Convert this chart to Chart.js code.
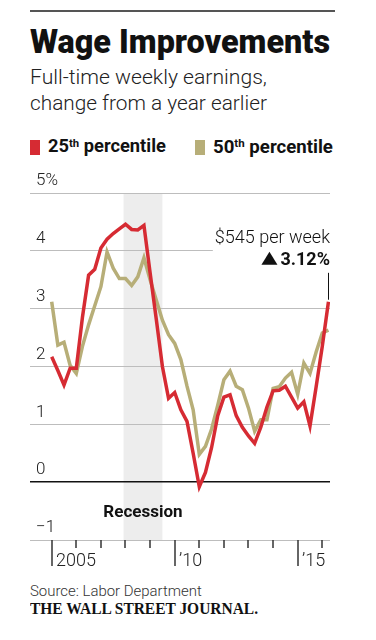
<!DOCTYPE html>
<html>
<head>
<meta charset="utf-8">
<script src="https://cdn.jsdelivr.net/npm/chart.js@4.4.1/dist/chart.umd.min.js"></script>
<style>
  html, body { margin: 0; padding: 0; background: #fff; }
  body { width: 376px; height: 640px; position: relative; overflow: hidden; font-family: Roboto, sans-serif; color: #111; }
  #chart { position: absolute; left: 0; top: 0; }
  .t { position: absolute; left: 30px; white-space: nowrap; line-height: 1; }
  .rule { position: absolute; left: 30px; top: 10px; width: 305px; height: 2px; background: #555; }
  .sw { position: absolute; top: 140px; width: 10px; height: 15px; }
  sup { font-size: 0.62em; vertical-align: 0; position: relative; top: -0.5em; }
</style>
</head>
<body>
<div class="rule"></div>
<div class="t" data-base="53" data-w="300" style="font-weight:900;font-size:32px">Wage Improvements</div>
<div class="t" data-base="84" data-w="237" style="font-weight:300;font-size:19px;color:#222">Full-time weekly earnings,</div>
<div class="t" data-base="110" data-w="237" style="font-weight:300;font-size:19px;color:#222">change from a year earlier</div>
<div class="sw" style="left:30px;background:#d62b33"></div>
<div class="t" data-base="153" data-w="118" style="left:48px;font-weight:700;font-size:18px">25<sup>th</sup> percentile</div>
<div class="sw" style="left:195px;background:#b7ae78"></div>
<div class="t" data-base="153" data-w="120" style="left:213px;font-weight:700;font-size:18px">50<sup>th</sup> percentile</div>
<div class="t" data-base="596" data-w="172" style="font-weight:300;font-size:15px;color:#333">Source: Labor Department</div>
<div class="t" data-base="614" data-w="228" data-fit="sx" style="font-family:'Liberation Serif',serif;font-weight:700;font-size:16px">THE WALL STREET JOURNAL.</div>
<canvas id="chart" width="376" height="640"></canvas>
<script>
// quarterly, change from a year earlier (%)
const quarters = [
  '2005Q1', '2005Q2', '2005Q3', '2005Q4', '2006Q1', '2006Q2', '2006Q3', '2006Q4',
  '2007Q1', '2007Q2', '2007Q3', '2007Q4', '2008Q1', '2008Q2', '2008Q3', '2008Q4',
  '2009Q1', '2009Q2', '2009Q3', '2009Q4', '2010Q1', '2010Q2', '2010Q3', '2010Q4',
  '2011Q1', '2011Q2', '2011Q3', '2011Q4', '2012Q1', '2012Q2', '2012Q3', '2012Q4',
  '2013Q1', '2013Q2', '2013Q3', '2013Q4', '2014Q1', '2014Q2', '2014Q3', '2014Q4',
  '2015Q1', '2015Q2', '2015Q3', '2015Q4', '2016Q1', '2016Q2'
];
const p25 = [
  2.17, 1.93, 1.68, 1.97, 1.97, 2.85, 3.58, 3.68, 4.05, 4.2, 4.3, 4.38,
  4.46, 4.37, 4.36, 4.44, 3.62, 2.82, 2.0, 1.45, 1.55, 1.25, 1.05, 0.5,
  -0.08, 0.17, 0.6, 1.15, 1.47, 1.51, 1.15, 0.95, 0.8, 0.67, 0.95, 1.3,
  1.58, 1.59, 1.66, 1.47, 1.28, 1.39, 0.97, 1.65, 2.35, 3.12
];
const p50 = [
  3.12, 2.37, 2.42, 2.02, 1.88, 2.35, 2.72, 3.05, 3.38, 3.98, 3.7, 3.52,
  3.52, 3.4, 3.55, 3.88, 3.5, 3.15, 2.8, 2.55, 2.4, 2.12, 1.66, 1.25,
  0.48, 0.62, 0.92, 1.33, 1.77, 1.92, 1.66, 1.6, 1.28, 0.88, 1.08, 1.08,
  1.62, 1.65, 1.8, 1.9, 1.52, 2.06, 1.88, 2.25, 2.58, 2.63
];
const yTicks = [-1, 0, 1, 2, 3, 4, 5];
const yearTicks = [2005, 2006, 2007, 2008, 2009, 2010, 2011, 2012, 2013, 2014, 2015, 2016];
const yearLabels = { 2005: '2005', 2010: '\u201910', 2015: '\u201915' };
const recession = [2007.92, 2009.5];
const latestWeekly = '$545 per week';
const latestChange = '3.12%';

const RED = '#d62b33';
const TAN = '#b7ae78';
const GRID = '#bdbdbd';

// fit header / footer text to the reference widths and put it on its baseline
const mctx = document.createElement('canvas').getContext('2d');
document.querySelectorAll('.t').forEach(el => {
  const cs = getComputedStyle(el);
  let size = parseFloat(cs.fontSize);
  const target = +el.dataset.w;
  const w = el.getBoundingClientRect().width;
  if (el.dataset.fit === 'sx') {
    el.style.transformOrigin = '0 0';
    el.style.transform = 'scaleX(' + (target / w) + ')';
  } else {
    size = size * target / w;
    el.style.fontSize = size + 'px';
  }
  mctx.font = cs.fontWeight + ' ' + size + 'px ' + cs.fontFamily;
  const m = mctx.measureText('Hg');
  const a = m.fontBoundingBoxAscent, d = m.fontBoundingBoxDescent;
  el.style.top = (+el.dataset.base - ((size - (a + d)) / 2 + a)) + 'px';
});

const toYear = q => +q.slice(0, 4) + (+q.slice(5) - 1) / 4;
const points = arr => arr.map((v, i) => ({ x: toYear(quarters[i]), y: v }));

const extras = {
  id: 'extras',
  beforeDraw(chart) {
    const { ctx, chartArea: a, scales: { x } } = chart;
    const x1 = x.getPixelForValue(recession[0]);
    const x2 = x.getPixelForValue(recession[1]);
    ctx.save();
    ctx.fillStyle = '#ededed';
    ctx.fillRect(x1, a.top, x2 - x1, a.bottom - a.top);
    ctx.restore();
  },
  beforeDatasetsDraw(chart) {
    const { ctx, chartArea: a, scales: { x, y } } = chart;
    ctx.save();
    // shortened 4% line (room for the note)
    const y4 = Math.round(y.getPixelForValue(4) - 0.5) + 0.5;
    ctx.strokeStyle = GRID;
    ctx.lineWidth = 1;
    ctx.beginPath();
    ctx.moveTo(a.left, y4);
    ctx.lineTo(x.getPixelForValue(2011.55), y4);
    ctx.stroke();
    // year ticks
    ctx.strokeStyle = '#333';
    ctx.lineWidth = 1.5;
    ctx.fillStyle = '#222';
    ctx.font = '300 18px Roboto';
    ctx.textAlign = 'left';
    ctx.textBaseline = 'alphabetic';
    yearTicks.forEach(yr => {
      const px = Math.round(x.getPixelForValue(yr));
      const major = yearLabels[yr] !== undefined;
      ctx.beginPath();
      ctx.moveTo(px, a.bottom);
      ctx.lineTo(px, a.bottom + (major ? 26 : 8));
      ctx.stroke();
      if (major) ctx.fillText(yearLabels[yr], px + 4, a.bottom + 26);
    });
    // recession label
    ctx.font = '700 17px Roboto';
    ctx.textAlign = 'center';
    ctx.fillStyle = '#111';
    ctx.fillText('Recession', (x.getPixelForValue(recession[0]) + x.getPixelForValue(recession[1])) / 2, a.bottom - 23);
    ctx.restore();
  },
  afterDatasetsDraw(chart) {
    const { ctx, scales: { y } } = chart;
    const data = chart.getDatasetMeta(0).data;
    const pt = data[data.length - 1];
    const xr = pt.x + 1.5;
    const base1 = y.getPixelForValue(4) - 8;
    const base2 = base1 + 22;
    ctx.save();
    ctx.fillStyle = '#111';
    ctx.textAlign = 'right';
    ctx.textBaseline = 'alphabetic';
    ctx.font = '300 18px Roboto';
    ctx.fillText(latestWeekly, xr, base1);
    ctx.font = '700 18px Roboto';
    ctx.fillText(latestChange, xr, base2);
    const w = ctx.measureText(latestChange).width;
    const tr = xr - w - 3;
    ctx.beginPath();
    ctx.moveTo(tr - 16, base2);
    ctx.lineTo(tr, base2);
    ctx.lineTo(tr - 8, base2 - 13);
    ctx.closePath();
    ctx.fill();
    const lx = Math.round(pt.x) + 0.5;
    ctx.strokeStyle = '#111';
    ctx.lineWidth = 1;
    ctx.beginPath();
    ctx.moveTo(lx, base2 + 8);
    ctx.lineTo(lx, pt.y - 2);
    ctx.stroke();
    ctx.restore();
  }
};

new Chart(document.querySelector('#chart'), {
  type: 'line',
  data: {
    datasets: [{
      label: '25th percentile',
      data: points(p25),
      borderColor: RED,
      borderWidth: 3.5,
      pointRadius: 0,
      tension: 0
    }, {
      label: '50th percentile',
      data: points(p50),
      borderColor: TAN,
      borderWidth: 3.5,
      pointRadius: 0,
      tension: 0
    }]
  },
  options: {
    responsive: false,
    animation: false,
    events: [],
    layout: { padding: { left: 30, right: 46, top: 193, bottom: 100 } },
    plugins: { legend: { display: false }, tooltip: { enabled: false } },
    scales: {
      x: {
        type: 'linear',
        min: 2004.118,
        max: 2016.313,
        display: false
      },
      y: {
        min: -1,
        max: 5,
        afterFit: s => { s.width = 0; },
        afterBuildTicks: s => { s.ticks = yTicks.map(v => ({ value: v })); },
        border: { display: false },
        grid: {
          drawTicks: false,
          color: c => c.tick.value === 0 ? '#111' : (c.tick.value === 4 ? 'rgba(0,0,0,0)' : GRID),
          lineWidth: c => c.tick.value === 0 ? 1.5 : 1
        },
        ticks: {
          mirror: true,
          padding: 6,
          labelOffset: -12,
          color: '#222',
          font: { family: 'Roboto', size: 17, weight: '300' },
          callback: v => v === 5 ? '5%' : (v < 0 ? '\u2212' + Math.abs(v) : String(v))
        }
      }
    }
  },
  plugins: [extras]
});
</script>
</body>
</html>
